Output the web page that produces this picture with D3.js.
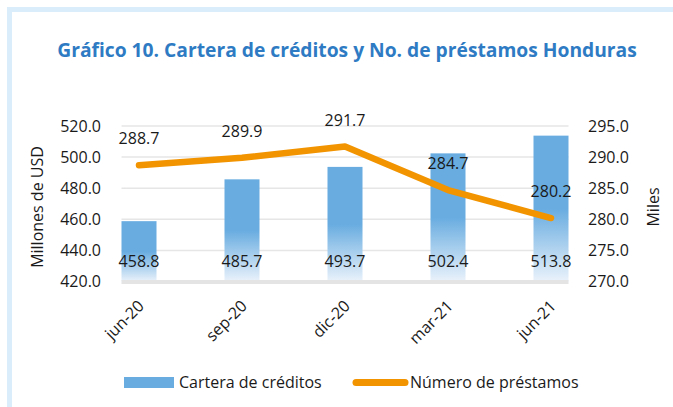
<!DOCTYPE html>
<html>
<head>
<meta charset="utf-8">
<script src="https://cdn.jsdelivr.net/npm/d3@7"></script>
<style>
  body { margin: 0; background: #fff; }
  svg { display: block; font-family: "Open Sans", sans-serif; }
</style>
</head>
<body>
<svg width="673" height="407"></svg>
<script>
// data
const periods = ["jun-20", "sep-20", "dic-20", "mar-21", "jun-21"];
const cartera = [458.8, 485.7, 493.7, 502.4, 513.8];     // millones de USD
const prestamos = [288.7, 289.9, 291.7, 284.7, 280.2];   // miles
const leftTicks = [420, 440, 460, 480, 500, 520];
const rightTicks = [270, 275, 280, 285, 290, 295];

const svg = d3.select("svg"),
  width = +svg.attr("width"),
  height = +svg.attr("height");

const barColor = "#68ace0", lineColor = "#f29400";

// frame
svg.append("path")
  .attr("d", `M9.5,${height} V9.5 H${width}`)
  .attr("fill", "none")
  .attr("stroke", "#daedfb")
  .attr("stroke-width", 5);

// title
let title = svg.append("text")
  .attr("x", 347).attr("y", 57)
  .attr("text-anchor", "middle")
  .attr("font-weight", "bold")
  .attr("font-size", 17)
  .attr("fill", "#2e7bc4")
  .text("Gráfico 10. Cartera de créditos y No. de préstamos Honduras");
let tw = title.node().getComputedTextLength();
title.attr("font-size", 17 * 580 / tw);

// scales
const x = d3.scalePoint().domain(periods).range([87.5, 602.5]).padding(0.5);
const bw = 35;
const yL = d3.scaleLinear().domain([420, 520]).range([281.5, 126]);
const yR = d3.scaleLinear().domain([270, 295]).range([281.5, 126]);

const gx0 = x(periods[0]) - bw / 2, gx1 = x(periods[periods.length - 1]) + bw / 2;

// gradient for bars
const grad = svg.append("defs").append("linearGradient")
  .attr("id", "barGrad").attr("x1", 0).attr("y1", 0).attr("x2", 0).attr("y2", 1);
grad.append("stop").attr("offset", "0%").attr("stop-color", barColor);
grad.append("stop").attr("offset", "50%").attr("stop-color", barColor);
grad.append("stop").attr("offset", "100%").attr("stop-color", "#eaf2fb");

// gridlines
svg.append("g").selectAll("line")
  .data(leftTicks.slice(1))
  .join("line")
  .attr("x1", gx0).attr("x2", gx1)
  .attr("y1", d => yL(d)).attr("y2", d => yL(d))
  .attr("stroke", "#e6e6e6").attr("stroke-width", 1.5);

// bars
svg.append("g").selectAll("rect")
  .data(cartera)
  .join("rect")
  .attr("x", (d, i) => x(periods[i]) - bw / 2)
  .attr("width", bw)
  .attr("y", d => yL(d))
  .attr("height", d => yL(420) - yL(d))
  .attr("fill", "url(#barGrad)");

// baseline
svg.append("line")
  .attr("x1", gx0).attr("x2", gx1)
  .attr("y1", yL(420) + 0.5).attr("y2", yL(420) + 0.5)
  .attr("stroke", "#e4e4e4").attr("stroke-width", 4);

// bar labels
svg.append("g").selectAll("text")
  .data(cartera)
  .join("text")
  .attr("x", (d, i) => x(periods[i]))
  .attr("y", 267)
  .attr("text-anchor", "middle")
  .attr("font-size", 16)
  .attr("fill", "#1a1a1a")
  .text(d => d.toFixed(1));

// line
const line = d3.line()
  .x((d, i) => x(periods[i]))
  .y(d => yR(d));
svg.append("path")
  .datum(prestamos)
  .attr("d", line)
  .attr("fill", "none")
  .attr("stroke", lineColor)
  .attr("stroke-width", 6.5)
  .attr("stroke-linecap", "round")
  .attr("stroke-linejoin", "round");

svg.append("g").selectAll("text")
  .data(prestamos)
  .join("text")
  .attr("x", (d, i) => x(periods[i]))
  .attr("y", d => yR(d) - 21)
  .attr("text-anchor", "middle")
  .attr("font-size", 16)
  .attr("fill", "#1a1a1a")
  .text(d => d.toFixed(1));

// left axis labels
svg.append("g").selectAll("text")
  .data(leftTicks)
  .join("text")
  .attr("x", 101).attr("y", d => yL(d))
  .attr("dy", "0.35em")
  .attr("text-anchor", "end")
  .attr("font-size", 16)
  .attr("fill", "#1a1a1a")
  .text(d => d.toFixed(1));

// right axis labels
svg.append("g").selectAll("text")
  .data(rightTicks)
  .join("text")
  .attr("x", 588).attr("y", d => yR(d))
  .attr("dy", "0.35em")
  .attr("text-anchor", "start")
  .attr("font-size", 16)
  .attr("fill", "#1a1a1a")
  .text(d => d.toFixed(1));

// axis titles
svg.append("text")
  .attr("transform", "translate(43,207) rotate(-90)")
  .attr("text-anchor", "middle")
  .attr("font-size", 16)
  .attr("fill", "#1a1a1a")
  .text("Millones de USD");
svg.append("text")
  .attr("transform", "translate(659,207) rotate(-90)")
  .attr("text-anchor", "middle")
  .attr("font-size", 16)
  .attr("fill", "#1a1a1a")
  .text("Miles");

// x labels
svg.append("g").selectAll("text")
  .data(periods)
  .join("text")
  .attr("transform", d => `translate(${x(d) + 2},${303}) rotate(-45)`)
  .attr("text-anchor", "end")
  .attr("dy", "0.35em")
  .attr("font-size", 16)
  .attr("fill", "#1a1a1a")
  .text(d => d);

// legend
const lg = svg.append("g");
lg.append("rect")
  .attr("x", 124).attr("y", 377).attr("width", 50).attr("height", 11)
  .attr("fill", barColor);
lg.append("text")
  .attr("x", 179).attr("y", 382.5).attr("dy", "0.35em")
  .attr("font-size", 16).attr("fill", "#1a1a1a")
  .text("Cartera de créditos");
lg.append("line")
  .attr("x1", 356).attr("x2", 405).attr("y1", 382.5).attr("y2", 382.5)
  .attr("stroke", lineColor).attr("stroke-width", 7).attr("stroke-linecap", "round");
lg.append("text")
  .attr("x", 410).attr("y", 382.5).attr("dy", "0.35em")
  .attr("font-size", 16).attr("fill", "#1a1a1a")
  .text("Número de préstamos");
</script>
</body>
</html>
